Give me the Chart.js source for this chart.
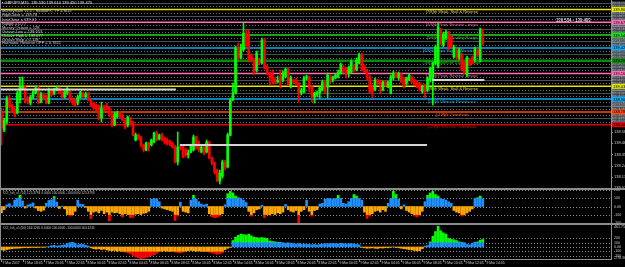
<!DOCTYPE html>
<html><head><meta charset="utf-8">
<script src="https://cdn.jsdelivr.net/npm/chart.js@4.4.1/dist/chart.umd.min.js"></script>
<style>
html,body{margin:0;padding:0;background:#000;width:625px;height:267px;overflow:hidden;position:relative}
canvas{position:absolute;left:0;display:block}
.rule{position:absolute;background:#8c8c8c}
</style></head><body>
<canvas id="cA" width="625" height="188" style="top:0;width:625px;height:188px"></canvas>
<canvas id="cB" width="625" height="33" style="top:190px;width:625px;height:33px"></canvas>
<canvas id="cC" width="625" height="42" style="top:225px;width:625px;height:42px"></canvas>
<div class="rule" style="left:0;top:188px;width:625px;height:2px"></div>
<div class="rule" style="left:0;top:223px;width:625px;height:2px"></div>
<div class="rule" style="left:611px;top:0;width:1px;height:260px"></div>
<div class="rule" style="left:0;top:0;width:1px;height:260px"></div>
<script>
// ---------------- DATA ----------------
const candleOpen = [
138.78,138.60,138.68,138.92,138.84,138.80,138.77,138.90,139.01,139.03,
138.90,138.87,138.93,138.97,139.02,138.88,138.95,138.93,138.87,139.00,
138.97,139.00,139.02,138.98,138.93,138.97,138.98,138.91,138.90,138.87,
138.93,138.97,138.93,138.97,138.90,138.87,138.85,138.83,138.72,138.83,
138.84,138.82,138.75,138.65,138.73,138.77,138.75,138.70,138.65,138.72,
138.68,138.50,138.55,138.53,138.45,138.40,138.47,138.45,138.48,138.57,
138.51,138.55,138.52,138.50,138.49,138.47,138.43,138.28,138.45,138.44,
138.41,138.35,138.38,138.40,138.53,138.48,138.38,138.43,138.38,138.48,
138.32,138.27,138.20,138.09,138.14,138.28,138.23,138.55,138.90,138.97,
139.41,139.32,139.40,139.56,139.54,139.35,139.30,139.20,139.30,139.27,
139.50,139.23,139.17,139.16,139.11,139.08,139.13,139.10,139.13,139.20,
139.04,139.10,139.10,139.07,138.97,138.98,139.12,139.13,139.03,138.93,
138.95,138.97,139.00,139.08,139.03,139.13,139.10,139.12,139.13,139.17,
139.23,139.20,139.17,139.18,139.23,139.20,139.27,139.35,139.23,139.20,
139.13,139.03,139.00,139.10,139.08,139.00,139.08,139.03,138.97,139.12,
139.17,139.12,139.15,139.11,139.07,139.10,139.13,139.10,139.08,139.07,
138.98,139.05,139.00,139.10,139.10,139.27,139.24,139.60,139.45,139.52,
139.57,139.53,139.33,139.40,139.32,139.35,139.27,139.15,139.30,139.32,
139.30,139.40,139.30,139.53];
const candleHigh = [
138.82,138.72,138.94,138.95,138.86,138.83,138.99,139.13,139.13,139.05,
138.94,138.95,139.00,139.04,139.04,138.98,138.97,138.95,139.02,139.01,
139.02,139.04,139.03,138.99,139.00,139.03,138.99,138.92,138.92,138.95,
138.99,138.98,138.98,138.98,138.91,138.88,138.86,138.85,138.88,138.85,
138.87,138.83,138.77,138.78,138.79,138.78,138.76,138.72,138.74,138.73,
138.69,138.57,138.56,138.54,138.46,138.48,138.48,138.51,138.58,138.59,
138.56,138.57,138.53,138.52,138.50,138.48,138.45,138.58,138.46,138.45,
138.42,138.40,138.46,138.55,138.54,138.49,138.44,138.44,138.50,138.49,
138.33,138.28,138.21,138.20,138.30,138.30,138.57,138.92,139.07,139.44,
139.47,139.46,139.67,139.60,139.60,139.36,139.32,139.39,139.32,139.52,
139.52,139.25,139.18,139.20,139.13,139.14,139.20,139.19,139.22,139.22,
139.14,139.11,139.12,139.08,139.02,139.14,139.15,139.14,139.05,138.98,
138.99,139.04,139.10,139.10,139.17,139.15,139.14,139.16,139.20,139.27,
139.25,139.22,139.24,139.30,139.25,139.32,139.37,139.37,139.25,139.21,
139.15,139.05,139.12,139.11,139.10,139.09,139.09,139.09,139.15,139.19,
139.18,139.18,139.17,139.13,139.13,139.16,139.14,139.11,139.09,139.08,
139.05,139.06,139.13,139.23,139.28,139.45,139.67,139.62,139.58,139.60,
139.59,139.55,139.45,139.41,139.42,139.37,139.28,139.34,139.32,139.34,
139.43,139.42,139.62,139.61];
const candleLow = [
138.45,138.58,138.66,138.82,138.77,138.73,138.76,138.87,139.00,138.87,
138.86,138.85,138.91,138.96,138.86,138.87,138.90,138.86,138.86,138.94,
138.95,138.99,138.96,138.91,138.92,138.95,138.88,138.85,138.83,138.85,
138.92,138.92,138.92,138.89,138.84,138.80,138.78,138.70,138.68,138.78,
138.80,138.73,138.63,138.64,138.72,138.72,138.69,138.61,138.63,138.65,
138.54,138.49,138.50,138.43,138.38,138.39,138.39,138.44,138.47,138.49,
138.50,138.49,138.46,138.45,138.44,138.42,138.27,138.25,138.40,138.32,
138.33,138.32,138.37,138.39,138.41,138.38,138.37,138.35,138.37,138.31,
138.25,138.16,138.08,138.06,138.12,138.20,138.22,138.54,138.89,138.96,
139.30,139.31,139.39,139.43,139.28,139.28,139.15,139.18,139.25,139.26,
139.21,139.15,139.05,139.06,139.06,139.07,139.02,139.08,139.12,139.04,
139.02,139.06,139.05,138.88,138.95,138.97,139.10,138.98,138.88,138.87,
138.93,138.92,138.99,138.96,138.92,139.07,139.08,139.11,139.12,139.16,
139.17,139.12,139.13,139.17,139.18,139.19,139.26,139.19,139.17,139.10,
138.97,138.92,138.99,139.05,138.96,138.99,139.03,139.02,138.96,139.10,
139.12,139.10,139.07,139.02,139.05,139.09,139.07,139.04,139.02,138.99,
138.97,138.92,138.98,139.08,138.85,139.25,139.22,139.45,139.43,139.50,
139.40,139.42,139.32,139.30,139.30,139.19,139.16,139.13,139.24,139.26,
139.28,139.33,139.28,139.45];
const candleClose = [
138.62,138.70,138.92,138.83,138.78,138.76,138.97,139.03,139.03,138.88,
138.88,138.93,138.98,139.02,138.88,138.96,138.92,138.87,139.00,138.95,
139.00,139.02,138.97,138.93,138.98,139.01,138.90,138.87,138.85,138.93,
138.98,138.93,138.96,138.90,138.85,138.82,138.80,138.72,138.82,138.80,
138.81,138.75,138.65,138.76,138.77,138.73,138.70,138.63,138.73,138.67,
138.55,138.55,138.52,138.45,138.40,138.47,138.43,138.50,138.57,138.50,
138.55,138.50,138.48,138.46,138.45,138.43,138.28,138.43,138.42,138.33,
138.35,138.37,138.45,138.53,138.42,138.40,138.43,138.37,138.48,138.32,
138.27,138.18,138.10,138.17,138.28,138.23,138.55,138.90,138.97,139.42,
139.32,139.40,139.57,139.45,139.30,139.30,139.17,139.37,139.27,139.50,
139.23,139.17,139.12,139.08,139.08,139.10,139.05,139.17,139.21,139.05,
139.12,139.08,139.07,138.97,139.00,139.12,139.13,139.02,138.93,138.97,
138.98,139.02,139.08,138.98,139.15,139.08,139.13,139.15,139.18,139.25,
139.18,139.15,139.22,139.28,139.20,139.30,139.35,139.20,139.18,139.12,
138.98,138.98,139.10,139.07,139.05,139.08,139.05,139.08,139.13,139.17,
139.13,139.16,139.08,139.03,139.12,139.15,139.08,139.05,139.03,139.00,
139.03,138.98,139.12,139.22,139.27,139.43,139.63,139.47,139.56,139.58,
139.43,139.43,139.43,139.33,139.40,139.20,139.18,139.32,139.25,139.27,
139.42,139.35,139.60,139.47];

const cciFast = [
-80,-40,20,35,10,80,100,140,70,-20,
20,30,45,-20,-50,-60,-45,40,75,85,
125,55,-25,5,-30,-100,-120,-110,-60,80,
30,25,-10,-60,-150,-70,-60,-80,-50,-90,
-70,-180,-70,-80,-75,-90,-130,-90,-100,-140,
-135,-95,-90,-100,-85,-80,-60,90,100,95,
60,-20,-30,-40,-50,-60,-175,-120,55,-60,
-70,-80,80,140,90,60,30,20,30,-90,
-130,-140,-135,-120,-90,20,160,190,170,130,
110,100,80,50,-60,-120,-80,-40,-30,15,
-140,-100,-110,-90,-100,-80,-90,-70,25,-40,
-60,-70,-50,-220,-60,-40,80,-60,-120,-50,
-40,30,40,90,100,100,90,100,140,100,
40,30,60,100,150,130,100,80,-70,-150,
-120,-90,-60,-50,-70,-40,-60,40,100,190,
150,90,-30,20,-50,-70,-90,-120,-130,-110,
-60,60,140,170,190,150,130,100,90,80,
60,40,-50,-70,-80,-120,-110,-80,-60,-30,
100,110,130,100];
const cciSlow = [
-70,-80,-60,-50,-40,-30,-30,-25,-20,-15,
-20,-15,-10,-15,-10,-5,-10,5,10,30,
40,20,30,40,50,80,100,110,90,50,
60,60,40,20,-20,-40,-50,-40,-60,-50,
-70,-80,-90,-80,-100,-90,-110,-120,-140,-160,
-200,-230,-250,-270,-260,-240,-230,-200,-180,-150,
-110,-100,-90,-100,-110,-100,-120,-130,-140,-120,
-100,-90,-80,-90,-100,-90,-100,-110,-110,-120,
-140,-150,-170,-160,-130,-60,-30,-10,150,230,
270,300,290,280,300,260,230,220,210,220,
210,200,140,130,120,110,110,100,90,100,
90,80,70,80,60,70,60,60,50,60,
50,60,70,80,75,80,85,80,75,85,
80,70,75,80,70,60,50,-10,-20,-30,
-25,-20,-30,-35,-20,-25,-15,-20,-10,5,
-15,-20,-30,-40,-50,-60,-70,-80,-90,-85,
-40,20,35,120,250,360,485,380,330,300,
200,180,170,150,120,110,100,60,50,90,
110,120,160,175];

const timeLabels = ["7 Mar 2017","7 Mar 18:45","7 Mar 20:45","7 Mar 22:45","8 Mar 00:45","8 Mar 02:45",
"8 Mar 04:45","8 Mar 06:45","8 Mar 08:45","8 Mar 10:45","8 Mar 12:45","8 Mar 14:45","8 Mar 16:45",
"8 Mar 18:45","8 Mar 20:45","8 Mar 22:45","9 Mar 00:45","9 Mar 02:45","9 Mar 04:45","9 Mar 06:45",
"9 Mar 08:45","9 Mar 10:45","9 Mar 12:45","9 Mar 14:45"];
const timeLabelBars = [0,8,16,24,32,40,48,56,64,72,80,88,96,104,112,120,128,136,144,152,160,168,176,184];

const priceTicks = [138.580,138.468,138.356,138.244,138.132,138.020];
const mmLevels = [139.805,139.677,139.549,139.421,139.293,139.165,139.037,138.909,138.781,138.653];
const mmNames = ["[7/8]th Weak, Stall & Reverse","[6/8]th Pivot, Reverse - major","[5/8]th Top of Trading Range",
"[4/8]th Major Support/Resistance","[3/8]th Bottom of Trading Range","[2/8]th Pivot, Reverse - major",
"[1/8]th Weak, Stall & Reverse","[0/8]th Ultimate Resistance","[-1/8]th Overshoot","[-2/8]th Extreme Overshoot"];
const grayDotted = [139.837,139.773,139.709,139.645,139.581,139.517,139.453,139.389,139.325,139.261,
139.197,139.133,139.069,139.005,138.941,138.877,138.813,138.749,138.685];
const graySolid = [139.869,139.741,139.613,139.485,139.357,139.229,139.101,138.973,138.845,138.717];

const segStart = [-0.57, 67.9, 163.7];
const segEnd = [66.3, 161.8, 183.6];
const segPrice = [139.005, 138.450, 139.100];

const cciLevels = [200,100,0,-100,-200];
const fastAxisVals = [200,100,0,-100,-200];
const fastAxisText = ["200","100","0.00","-100","-200"];
const slowAxisVals = [470,200,100,0,-100,-200,-262];
const slowAxisText = ["461.7563","200","100","0.00","-100","-200","-276.96"];

const headerText = "\u25AA GBPJPY,M15  139.530 139.610 139.450 139.470";
const infoLines = ["MurreyMath v1.1 - StudioFX, TF = M15","HighClose = 139.78","LowClose = 139.01","Range = 0.77",
"Murrey Octave = 128","Octave Low = 138.653","Octave High = 139.677","Octave Step = 0.128","Harmonic Reverse OFF = 0.7651"];
const quoteText = "139.534 - 139.493";
const fastTitle = "CCI_Ish_v1 (14) 125.3793 0.0000 100.0000 -100.0000 125.3793";
const slowTitle = "CCI_Ish_v1 (50) 164.1245 0.0000 100.0000 -100.0000 164.1245";

// ---------------- STYLE ----------------
const FONT = '"Liberation Sans", Arial, sans-serif';
const X_MIN = -0.57, X_MAX = 231.75;
const UP = '#00ff00', DOWN = '#ff0000';
const BLUE = '#1e90ff', GREEN = '#00ff00', ORANGE = '#ffa800', RED = '#ff0000';
const mmColors = ['#e6e600','#ff6eb4','#22dd22','#16a8f0','#0a8a0a','#ff6eb4','#e6e600','#16a8f0','#ff4a12','#e00000'];
const mmText = ['#d8d870','#d9709f','#3cc83c','#3aa6e6','#36b036','#d9709f','#d8d870','#3aa6e6','#ff5a22','#c81414'];
const mmWidths = [1.5,1.5,1.5,1.5,2.5,1.5,1.5,1.5,1.5,1.5];

Chart.defaults.font.family = FONT;

function hLine(ctx, a, py, x1) {
  ctx.beginPath(); ctx.moveTo(a.left, py); ctx.lineTo(x1 === undefined ? a.right : x1, py); ctx.stroke();
}

const idx = candleOpen.map((_, i) => i);
const candleColors = idx.map(i => candleClose[i] >= candleOpen[i] ? UP : DOWN);

const priceOverlay = {
  id: 'priceOverlay',
  beforeDatasetsDraw(chart) {
    const {ctx, chartArea: a, scales: {y}} = chart;
    ctx.save();
    ctx.lineWidth = 1;
    ctx.strokeStyle = '#46505a';
    graySolid.forEach(v => hLine(ctx, a, Math.round(y.getPixelForValue(v)) + 0.5));
    ctx.setLineDash([1, 2]);
    ctx.strokeStyle = '#707070';
    grayDotted.forEach(v => hLine(ctx, a, Math.round(y.getPixelForValue(v)) + 0.5));
    ctx.setLineDash([]);
    mmLevels.forEach((v, i) => {
      ctx.strokeStyle = mmColors[i];
      ctx.lineWidth = mmWidths[i];
      hLine(ctx, a, y.getPixelForValue(v));
    });
    ctx.font = '4px ' + FONT;
    ctx.textAlign = 'center';
    ctx.textBaseline = 'top';
    mmLevels.forEach((v, i) => {
      ctx.fillStyle = mmText[i];
      ctx.fillText(mmNames[i], 452, y.getPixelForValue(v) + 0.5);
    });
    ctx.restore();
  },
  afterDraw(chart) {
    const {ctx, chartArea: a, scales: {y}} = chart;
    ctx.save();
    const ax = a.right + 1;
    ctx.font = '3.5px ' + FONT;
    ctx.textBaseline = 'middle';
    ctx.textAlign = 'left';
    graySolid.concat(grayDotted).forEach(v => {
      const py = y.getPixelForValue(v);
      ctx.fillStyle = '#7c868f';
      ctx.fillRect(ax, py - 1.5, 14, 3);
      ctx.fillStyle = '#222';
      ctx.fillText(v.toFixed(3), ax + 1, py);
    });
    ctx.font = '4px ' + FONT;
    mmLevels.forEach((v, i) => {
      const py = y.getPixelForValue(v);
      ctx.fillStyle = mmColors[i];
      ctx.fillRect(ax, py - 2.5, 14, 5);
      ctx.fillStyle = '#000';
      ctx.fillText(v.toFixed(3), ax + 1, py + 0.3);
    });
    ctx.fillStyle = '#c8c8c8';
    ctx.strokeStyle = '#8c8c8c';
    priceTicks.forEach(v => {
      const py = y.getPixelForValue(v);
      ctx.beginPath(); ctx.moveTo(a.right, Math.round(py) + 0.5); ctx.lineTo(a.right + 2, Math.round(py) + 0.5); ctx.stroke();
      ctx.fillText(v.toFixed(3), ax + 2, py);
    });
    ctx.fillStyle = '#e0e0e0';
    ctx.font = '4px ' + FONT;
    ctx.fillText(headerText, 2, 3.3);
    const rows = [11, 15.2, 19.4, 23.6, 27.8, 31.8, 35.8, 39.6, 43.2];
    ctx.fillStyle = '#d0d0d0';
    infoLines.forEach((t, i) => ctx.fillText(t, 2, rows[i]));
    ctx.fillStyle = '#ffffff';
    ctx.font = '5.6px ' + FONT;
    ctx.translate(556, 20.5);
    ctx.scale(0.76, 1);
    ctx.fillText(quoteText, 0, 0);
    ctx.restore();
  }
};

const segDatasets = segStart.map((s, i) => ({
  type: 'line',
  data: [{x: s, y: segPrice[i]}, {x: segEnd[i], y: segPrice[i]}],
  borderColor: '#d4d4d4', borderWidth: 2, pointRadius: 0, order: 0
}));

new Chart(document.getElementById('cA'), {
  type: 'bar',
  data: {datasets: [
    ...segDatasets,
    {data: idx.map(i => ({x: i, y: [candleOpen[i], candleClose[i]]})), backgroundColor: candleColors,
     barThickness: 2, minBarLength: 1, grouped: false, borderWidth: 0, order: 1},
    {data: idx.map(i => ({x: i, y: [candleLow[i], candleHigh[i]]})), backgroundColor: candleColors,
     barThickness: 1, grouped: false, borderWidth: 0, order: 2}
  ]},
  options: {
    responsive: false, animation: false, devicePixelRatio: 1, events: [],
    layout: {padding: {left: 0, right: 14, top: 0, bottom: 0}},
    plugins: {legend: {display: false}, tooltip: {enabled: false}},
    scales: {
      x: {type: 'linear', min: X_MIN, max: X_MAX, display: false, offset: false},
      y: {type: 'linear', min: 138.02, max: 139.90, display: false}
    }
  },
  plugins: [priceOverlay]
});

function histDatasets(vals) {
  const blue = [], green = [], orange = [], red = [];
  vals.forEach((v, i) => {
    if (v > 0) { blue.push({x: i, y: [0, Math.min(v, 100)]}); if (v > 100) green.push({x: i, y: [100, v]}); }
    else if (v < 0) { orange.push({x: i, y: [Math.max(v, -100), 0]}); if (v < -100) red.push({x: i, y: [v, -100]}); }
  });
  const mk = (d, c) => ({data: d, backgroundColor: c, barThickness: 2, grouped: false, borderWidth: 0});
  return [mk(blue, BLUE), mk(green, GREEN), mk(orange, ORANGE), mk(red, RED)];
}

function panelOverlay(id, title, axVals, axText, withTime) {
  return {
    id,
    beforeDatasetsDraw(chart) {
      const {ctx, chartArea: a, scales: {y}} = chart;
      ctx.save();
      ctx.strokeStyle = '#8a8a8a';
      ctx.lineWidth = 1;
      ctx.setLineDash([1, 2]);
      cciLevels.forEach(v => hLine(ctx, a, Math.round(y.getPixelForValue(v)) + 0.5));
      ctx.restore();
    },
    afterDraw(chart) {
      const {ctx, chartArea: a, scales: {x, y}} = chart;
      ctx.save();
      ctx.font = '3.2px ' + FONT;
      ctx.fillStyle = '#c8c8c8';
      ctx.textBaseline = 'middle';
      ctx.textAlign = 'left';
      ctx.fillText(title, 3, a.top + 3);
      ctx.font = '3.6px ' + FONT;
      axVals.forEach((v, i) => {
        const py = y.getPixelForValue(v);
        ctx.fillText(axText[i], a.right + 3, py);
      });
      if (withTime) {
        ctx.strokeStyle = '#8c8c8c';
        ctx.lineWidth = 1;
        ctx.beginPath(); ctx.moveTo(0, a.bottom + 0.5); ctx.lineTo(a.right, a.bottom + 0.5); ctx.stroke();
        ctx.font = '3.4px ' + FONT;
        ctx.fillStyle = '#d0d0d0';
        timeLabels.forEach((t, i) => {
          const px = Math.round(x.getPixelForValue(timeLabelBars[i])) + 0.5;
          ctx.beginPath(); ctx.moveTo(px, a.bottom); ctx.lineTo(px, a.bottom + 3); ctx.stroke();
          ctx.fillText(t, px + 1, a.bottom + 4.5);
        });
      }
      ctx.restore();
    }
  };
}

function panelChart(id, vals, min, max, bottomPad, plugin) {
  new Chart(document.getElementById(id), {
    type: 'bar',
    data: {datasets: histDatasets(vals)},
    options: {
      responsive: false, animation: false, devicePixelRatio: 1, events: [],
      layout: {padding: {left: 0, right: 14, top: 0, bottom: bottomPad}},
      plugins: {legend: {display: false}, tooltip: {enabled: false}},
      scales: {
        x: {type: 'linear', min: X_MIN, max: X_MAX, display: false, offset: false},
        y: {type: 'linear', min: min, max: max, display: false}
      }
    },
    plugins: [plugin]
  });
}

panelChart('cB', cciFast, -206, 206, 0, panelOverlay('pB', fastTitle, fastAxisVals, fastAxisText, false));
panelChart('cC', cciSlow, -280, 512, 8, panelOverlay('pC', slowTitle, slowAxisVals, slowAxisText, true));
</script>
</body></html>
